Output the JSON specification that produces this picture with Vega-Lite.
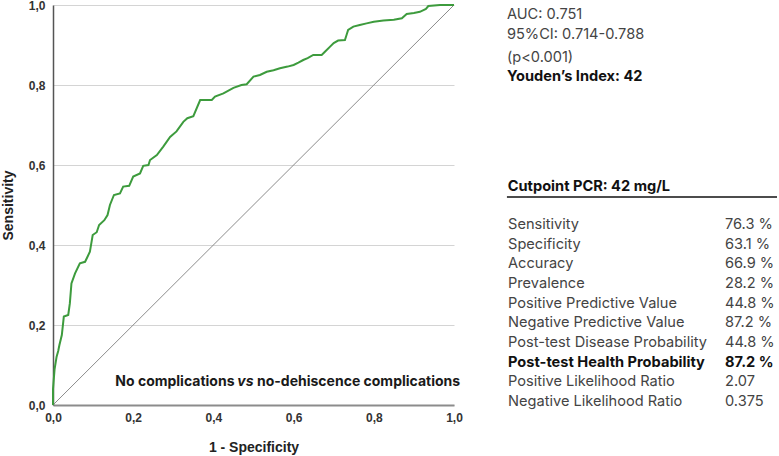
{
  "$schema": "https://vega.github.io/schema/vega-lite/v6.json",
  "autosize": {"type": "none"},
  "padding": {"left": 53, "top": 5, "right": 325, "bottom": 51},
  "width": 401,
  "height": 400,
  "background": "white",
  "config": {"view": {"stroke": null}, "font": "Liberation Sans"},
  "layer": [
    {
      "layer": [
        {
          "data": {"values": [{"fpr": 0, "tpr": 0}, {"fpr": 1, "tpr": 1}]},
          "mark": {"type": "line", "color": "#8c8c8c", "strokeWidth": 1},
          "encoding": {
            "x": {
              "field": "fpr", "type": "quantitative",
              "scale": {"domain": [0, 1], "nice": false, "zero": false},
              "axis": {
                "title": "1 - Specificity", "values": [0, 0.2, 0.4, 0.6, 0.8, 1],
                "labelExpr": "replace(format(datum.value, '.1f'), '.', ',')",
                "grid": false, "ticks": false, "labelFlush": false,
                "domainColor": "#8c8c8c", "domainWidth": 2,
                "labelFont": "Liberation Sans", "labelFontWeight": "bold", "labelFontSize": 12, "labelColor": "#333333", "labelPadding": 7,
                "titleFont": "Liberation Sans", "titleFontWeight": "bold", "titleFontSize": 14, "titleColor": "#222222", "titlePadding": 17
              }
            },
            "y": {
              "field": "tpr", "type": "quantitative",
              "scale": {"domain": [0, 1], "nice": false, "zero": false},
              "axis": {
                "title": "Sensitivity", "values": [0, 0.2, 0.4, 0.6, 0.8, 1],
                "labelExpr": "replace(format(datum.value, '.1f'), '.', ',')",
                "grid": true, "gridColor": "#d4d4d4", "gridWidth": 1,
                "ticks": false, "labelFlush": false,
                "domainColor": "#555555", "domainWidth": 1.5,
                "labelFont": "Liberation Sans", "labelFontWeight": "bold", "labelFontSize": 12, "labelColor": "#333333", "labelPadding": 8,
                "titleFont": "Liberation Sans", "titleFontWeight": "bold", "titleFontSize": 14, "titleColor": "#222222", "titlePadding": 13
              }
            }
          }
        },
        {
          "data": {"values": [
            {"fpr": 0, "tpr": 0}, {"fpr": 0, "tpr": 0.04}, {"fpr": 0.004, "tpr": 0.09}, {"fpr": 0.009, "tpr": 0.121},
            {"fpr": 0.013, "tpr": 0.135}, {"fpr": 0.016, "tpr": 0.15}, {"fpr": 0.022, "tpr": 0.175}, {"fpr": 0.027, "tpr": 0.221},
            {"fpr": 0.038, "tpr": 0.225}, {"fpr": 0.042, "tpr": 0.254}, {"fpr": 0.046, "tpr": 0.304}, {"fpr": 0.055, "tpr": 0.329},
            {"fpr": 0.067, "tpr": 0.354}, {"fpr": 0.08, "tpr": 0.358}, {"fpr": 0.092, "tpr": 0.383}, {"fpr": 0.099, "tpr": 0.425},
            {"fpr": 0.109, "tpr": 0.432}, {"fpr": 0.115, "tpr": 0.45}, {"fpr": 0.128, "tpr": 0.462}, {"fpr": 0.136, "tpr": 0.475},
            {"fpr": 0.142, "tpr": 0.5}, {"fpr": 0.152, "tpr": 0.525}, {"fpr": 0.167, "tpr": 0.529}, {"fpr": 0.175, "tpr": 0.546},
            {"fpr": 0.19, "tpr": 0.548}, {"fpr": 0.2, "tpr": 0.571}, {"fpr": 0.217, "tpr": 0.579}, {"fpr": 0.225, "tpr": 0.598},
            {"fpr": 0.238, "tpr": 0.6}, {"fpr": 0.242, "tpr": 0.6125}, {"fpr": 0.259, "tpr": 0.625}, {"fpr": 0.275, "tpr": 0.646},
            {"fpr": 0.292, "tpr": 0.67}, {"fpr": 0.308, "tpr": 0.684}, {"fpr": 0.325, "tpr": 0.708}, {"fpr": 0.335, "tpr": 0.717},
            {"fpr": 0.35, "tpr": 0.722}, {"fpr": 0.367, "tpr": 0.7625}, {"fpr": 0.396, "tpr": 0.7625}, {"fpr": 0.404, "tpr": 0.771},
            {"fpr": 0.425, "tpr": 0.779}, {"fpr": 0.45, "tpr": 0.793}, {"fpr": 0.47, "tpr": 0.8}, {"fpr": 0.483, "tpr": 0.802},
            {"fpr": 0.5, "tpr": 0.821}, {"fpr": 0.516, "tpr": 0.825}, {"fpr": 0.533, "tpr": 0.833}, {"fpr": 0.55, "tpr": 0.837},
            {"fpr": 0.566, "tpr": 0.842}, {"fpr": 0.585, "tpr": 0.846}, {"fpr": 0.6, "tpr": 0.85}, {"fpr": 0.612, "tpr": 0.856},
            {"fpr": 0.624, "tpr": 0.8625}, {"fpr": 0.635, "tpr": 0.867}, {"fpr": 0.649, "tpr": 0.875}, {"fpr": 0.67, "tpr": 0.875},
            {"fpr": 0.68, "tpr": 0.885}, {"fpr": 0.691, "tpr": 0.896}, {"fpr": 0.7, "tpr": 0.905}, {"fpr": 0.711, "tpr": 0.911},
            {"fpr": 0.728, "tpr": 0.9125}, {"fpr": 0.732, "tpr": 0.925}, {"fpr": 0.736, "tpr": 0.9375}, {"fpr": 0.749, "tpr": 0.946},
            {"fpr": 0.765, "tpr": 0.95}, {"fpr": 0.782, "tpr": 0.954}, {"fpr": 0.8, "tpr": 0.958}, {"fpr": 0.824, "tpr": 0.961},
            {"fpr": 0.85, "tpr": 0.963}, {"fpr": 0.87, "tpr": 0.967}, {"fpr": 0.882, "tpr": 0.9775}, {"fpr": 0.9, "tpr": 0.98},
            {"fpr": 0.915, "tpr": 0.983}, {"fpr": 0.93, "tpr": 0.99}, {"fpr": 0.936, "tpr": 0.9975}, {"fpr": 0.965, "tpr": 1.0},
            {"fpr": 1.0, "tpr": 1.0}
          ]},
          "mark": {"type": "line", "color": "#3d9b3d", "strokeWidth": 2},
          "encoding": {
            "x": {"field": "fpr", "type": "quantitative"},
            "y": {"field": "tpr", "type": "quantitative"}
          }
        },
        {
          "data": {"values": [{"part": "No complications"}]},
          "mark": {"type": "text", "align": "center", "baseline": "middle", "font": "Inter", "fontWeight": "bold", "fontSize": 14, "color": "#1a1a1a"},
          "encoding": {"x": {"datum": 0.304}, "y": {"datum": 0.0575}, "text": {"field": "part"}}
        },
        {
          "data": {"values": [{"part": "vs"}]},
          "mark": {"type": "text", "align": "center", "baseline": "middle", "font": "Inter", "fontWeight": "bold", "fontStyle": "italic", "fontSize": 14, "color": "#1a1a1a"},
          "encoding": {"x": {"datum": 0.48}, "y": {"datum": 0.0575}, "text": {"field": "part"}}
        },
        {
          "data": {"values": [{"part": "no-dehiscence complications"}]},
          "mark": {"type": "text", "align": "center", "baseline": "middle", "font": "Inter", "fontWeight": "bold", "fontSize": 14, "color": "#1a1a1a"},
          "encoding": {"x": {"datum": 0.762}, "y": {"datum": 0.0575}, "text": {"field": "part"}}
        },
        {
          "data": {"values": [{"line": "AUC: 0.751"}]},
          "mark": {"type": "text", "align": "left", "baseline": "middle", "font": "Inter", "fontSize": 14.6, "color": "#444444"},
          "encoding": {"x": {"datum": 1.132}, "y": {"datum": 0.975}, "text": {"field": "line"}}
        },
        {
          "data": {"values": [{"line": "95%CI: 0.714-0.788"}]},
          "mark": {"type": "text", "align": "left", "baseline": "middle", "font": "Inter", "fontSize": 14.6, "color": "#444444"},
          "encoding": {"x": {"datum": 1.132}, "y": {"datum": 0.925}, "text": {"field": "line"}}
        },
        {
          "data": {"values": [{"line": "(p<0.001)"}]},
          "mark": {"type": "text", "align": "left", "baseline": "middle", "font": "Inter", "fontSize": 14.6, "color": "#444444"},
          "encoding": {"x": {"datum": 1.132}, "y": {"datum": 0.8675}, "text": {"field": "line"}}
        },
        {
          "data": {"values": [{"line": "Youden’s Index: 42"}]},
          "mark": {"type": "text", "align": "left", "baseline": "middle", "font": "Inter", "fontWeight": "bold", "fontSize": 14.6, "color": "#111111"},
          "encoding": {"x": {"datum": 1.132}, "y": {"datum": 0.82}, "text": {"field": "line"}}
        },
        {
          "data": {"values": [{"line": "Cutpoint PCR: 42 mg/L"}]},
          "mark": {"type": "text", "align": "left", "baseline": "middle", "font": "Inter", "fontWeight": "bold", "fontSize": 14.6, "color": "#111111"},
          "encoding": {"x": {"datum": 1.134}, "y": {"datum": 0.545}, "text": {"field": "line"}}
        },
        {
          "data": {"values": [{"line": "underline"}]},
          "mark": {"type": "rule", "color": "#111111", "strokeWidth": 1.5},
          "encoding": {"x": {"datum": 1.132}, "x2": {"datum": 1.8055}, "y": {"datum": 0.52}}
        }
      ]
    },
    {
      "data": {"values": [
        {"metric": "Sensitivity", "value": "76.3 %"},
        {"metric": "Specificity", "value": "63.1 %"},
        {"metric": "Accuracy", "value": "66.9 %"},
        {"metric": "Prevalence", "value": "28.2 %"},
        {"metric": "Positive Predictive Value", "value": "44.8 %"},
        {"metric": "Negative Predictive Value", "value": "87.2 %"},
        {"metric": "Post-test Disease Probability", "value": "44.8 %"},
        {"metric": "Post-test Health Probability", "value": "87.2 %"},
        {"metric": "Positive Likelihood Ratio", "value": "2.07"},
        {"metric": "Negative Likelihood Ratio", "value": "0.375"}
      ]},
      "encoding": {
        "y": {
          "field": "metric", "type": "ordinal", "axis": null,
          "scale": {"type": "point", "padding": 0, "range": [220, 397], "domain": [
            "Sensitivity", "Specificity", "Accuracy", "Prevalence", "Positive Predictive Value",
            "Negative Predictive Value", "Post-test Disease Probability", "Post-test Health Probability",
            "Positive Likelihood Ratio", "Negative Likelihood Ratio"]}
        }
      },
      "layer": [
        {
          "transform": [{"filter": "datum.metric !== 'Post-test Health Probability'"}],
          "mark": {"type": "text", "align": "left", "baseline": "middle", "font": "Inter", "fontSize": 14.6, "color": "#444444"},
          "encoding": {"x": {"datum": 1.1347}, "text": {"field": "metric"}}
        },
        {
          "transform": [{"filter": "datum.metric !== 'Post-test Health Probability'"}],
          "mark": {"type": "text", "align": "left", "baseline": "middle", "font": "Inter", "fontSize": 14.6, "color": "#444444"},
          "encoding": {"x": {"datum": 1.6758}, "text": {"field": "value"}}
        },
        {
          "transform": [{"filter": "datum.metric === 'Post-test Health Probability'"}],
          "mark": {"type": "text", "align": "left", "baseline": "middle", "font": "Inter", "fontWeight": "bold", "fontSize": 14.6, "color": "#111111"},
          "encoding": {"x": {"datum": 1.1347}, "text": {"field": "metric"}}
        },
        {
          "transform": [{"filter": "datum.metric === 'Post-test Health Probability'"}],
          "mark": {"type": "text", "align": "left", "baseline": "middle", "font": "Inter", "fontWeight": "bold", "fontSize": 14.6, "color": "#111111"},
          "encoding": {"x": {"datum": 1.6758}, "text": {"field": "value"}}
        }
      ]
    }
  ],
  "resolve": {"scale": {"y": "independent"}}
}
